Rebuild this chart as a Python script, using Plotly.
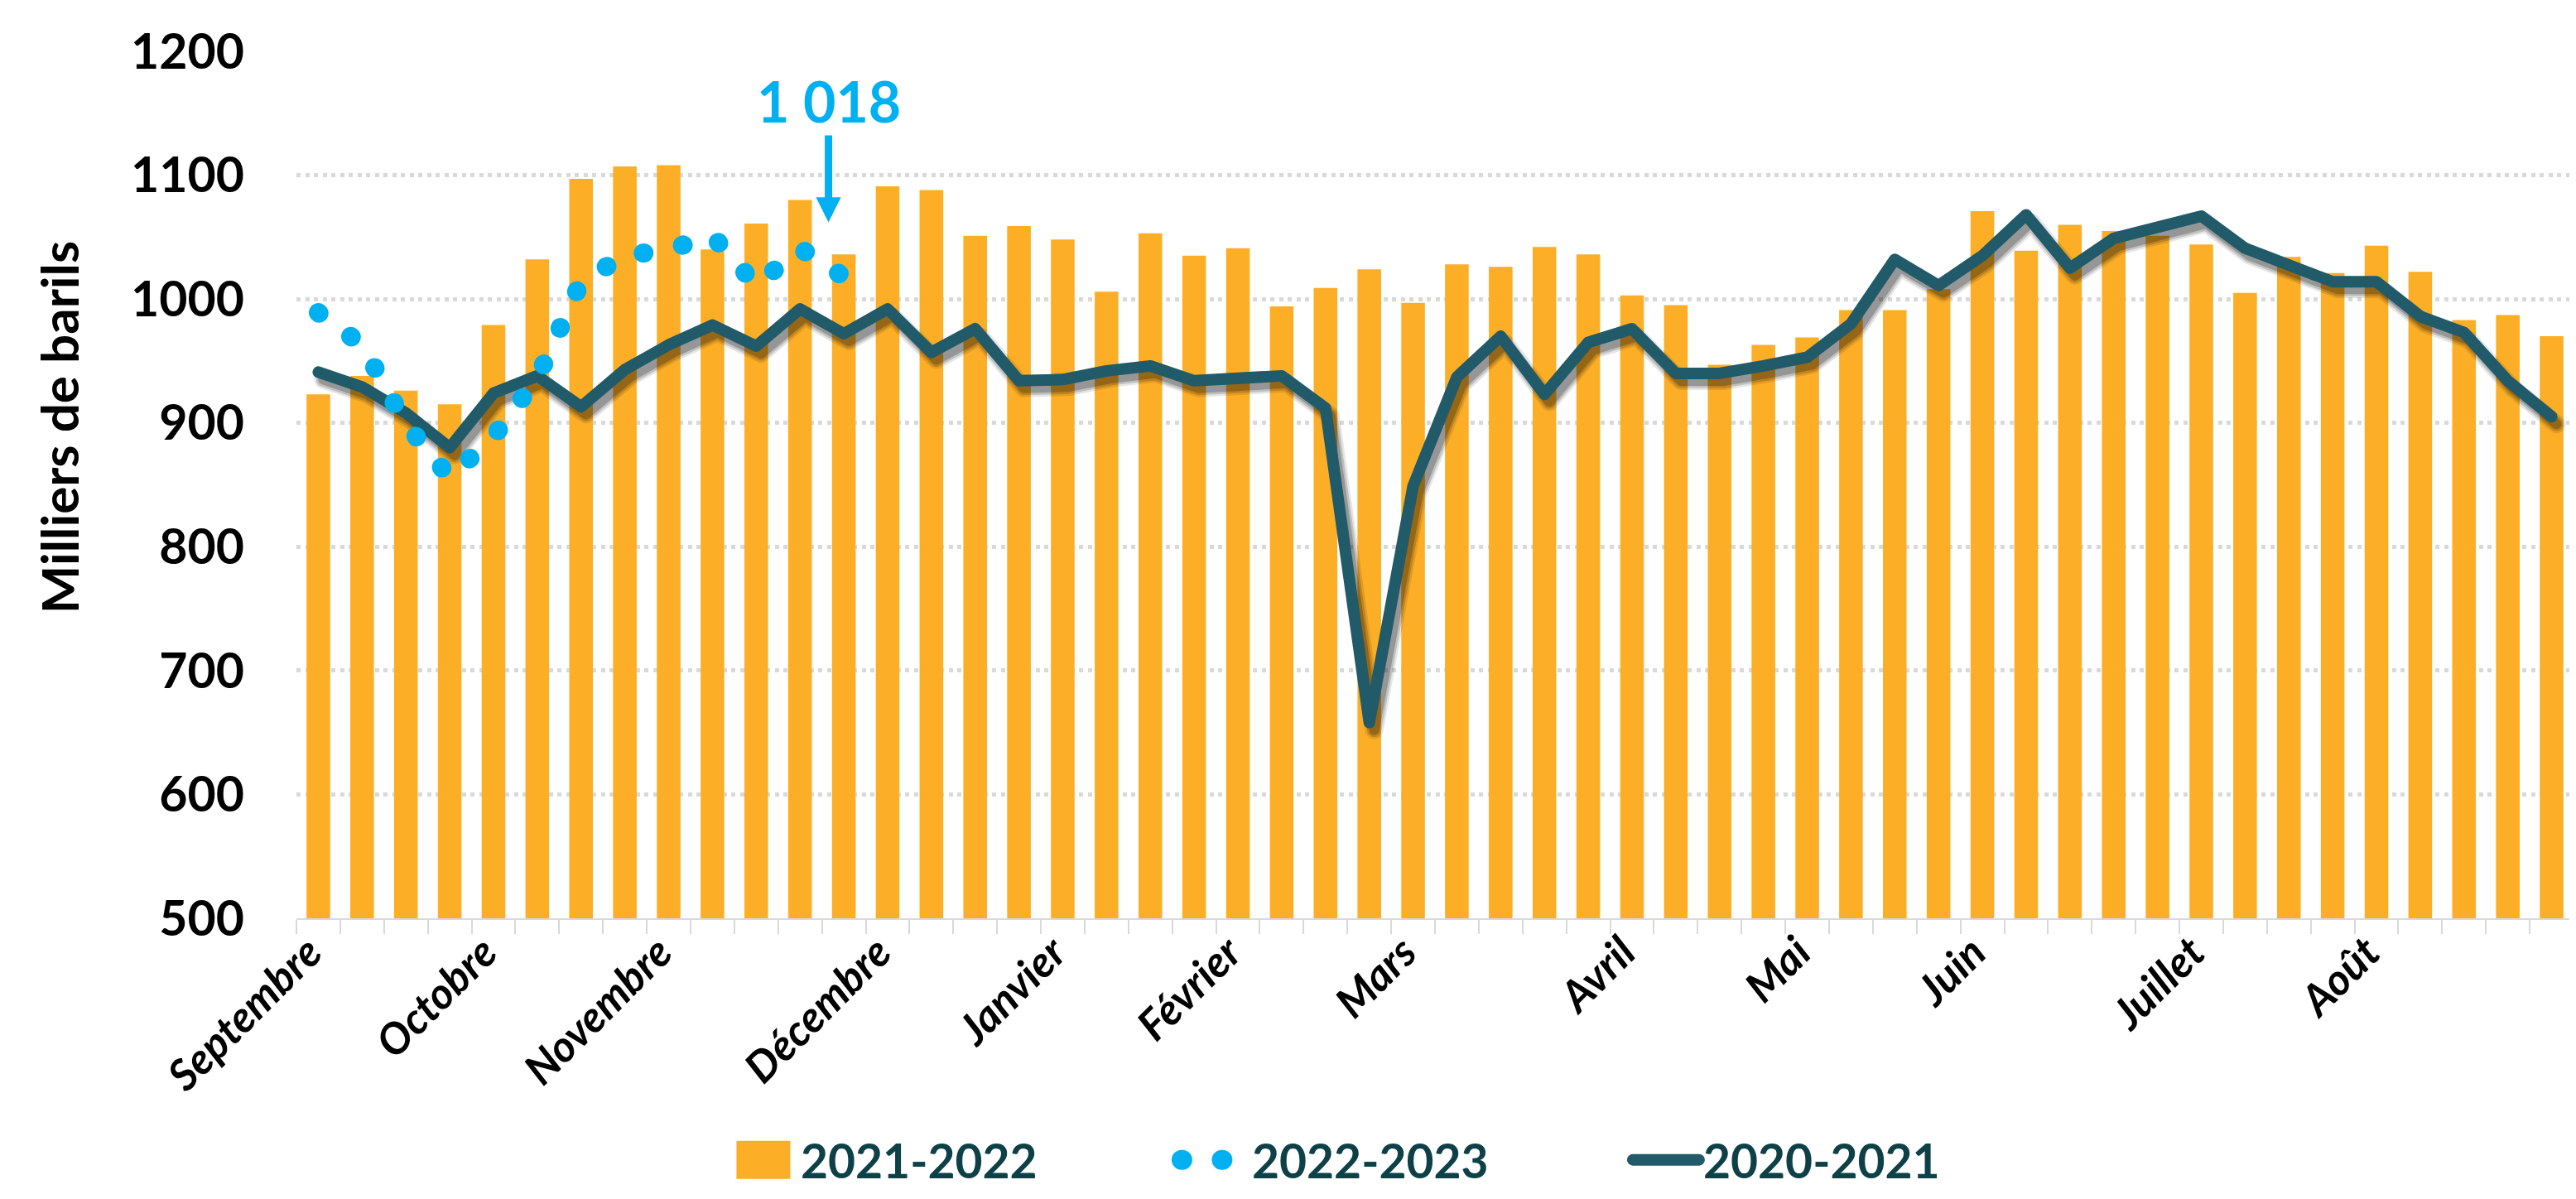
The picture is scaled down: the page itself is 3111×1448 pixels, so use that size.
import plotly.graph_objects as go

# ---------------- data ----------------
weeks = list(range(52))
months = ["Septembre", "Octobre", "Novembre", "Décembre", "Janvier", "Février",
          "Mars", "Avril", "Mai", "Juin", "Juillet", "Août"]
month_start_week = [0, 4, 8, 13, 17, 21, 25, 30, 34, 38, 43, 47]

s2021_2022 = [923, 938, 926, 915, 979, 1032, 1097, 1107, 1108, 1040, 1061, 1080, 1036, 1091, 1088,
              1051, 1059, 1048, 1006, 1053, 1035, 1041, 994, 1009, 1024, 997, 1028, 1026, 1042, 1036,
              1003, 995, 947, 963, 969, 991, 991, 1008, 1071, 1039, 1060, 1055, 1051, 1044,
              1005, 1034, 1021, 1043, 1022, 983, 987, 970]
s2022_2023 = [989, 963, 899, 856, 889, 936, 1014, 1035, 1040, 1051, 1011, 1041, 1018]
s2020_2021 = [941, 929, 908, 880, 924, 938, 913, 943, 963, 979, 962, 992, 972, 992, 957,
              976, 934, 935, 942, 946, 934, 937, 938, 912, 658, 849, 937, 970, 923, 965,
              976, 940, 940, 946, 953, 980, 1032, 1011, 1035, 1068, 1025, 1049, 1058, 1067,
              1041, 1028, 1014, 1014, 986, 973, 934, 905]
y_ticks = [500, 600, 700, 800, 900, 1000, 1100, 1200]
last_label = "1 018"

ORANGE = "#FDAE27"
TEAL = "rgb(33, 90, 105)"
CYAN = "#00B0F0"
LEG_TXT = "#0E4147"
GRID = "#D9D9D9"
FONT = "Lato"

fig = go.Figure()
fig.add_trace(go.Bar(x=weeks, y=s2021_2022, name="2021-2022", marker=dict(color=ORANGE, line=dict(width=0)),
                     legendrank=1))
fig.add_trace(go.Scatter(x=weeks, y=s2020_2021, name="2020-2021", mode="lines",
                         line=dict(color=TEAL, width=14), legendrank=3))
fig.add_trace(go.Scatter(x=weeks[:len(s2022_2023)], y=s2022_2023, name="2022-2023", mode="lines",
                         line=dict(color=CYAN, width=23, dash="1px,47.5px"), legendrank=2))

fig.update_layout(
    width=3111, height=1448,
    margin=dict(l=350, r=11, t=54, b=330),
    plot_bgcolor="white", paper_bgcolor="white",
    bargap=0.46,
    font=dict(family=FONT, color="black"),
    showlegend=True,
    legend=dict(orientation="h", x=0.1887, xanchor="left", y=-0.279, yanchor="middle",
                font=dict(family=FONT, size=57, color=LEG_TXT, weight="bold"),
                itemwidth=80, entrywidth=450, traceorder="normal"),
    xaxis=dict(range=[-0.5, 51.5], tickmode="array", tickvals=month_start_week, ticktext=months,
               tickangle=-45, tickfont=dict(family=FONT, size=52, color="black", weight="bold", style="italic"),
               ticks="", ticklabelshift=-11, ticklabelstandoff=-12,
               showgrid=False, zeroline=False,
               showline=True, linecolor=GRID, linewidth=2,
               minor=dict(tickmode="linear", tick0=-0.5, dtick=1, ticks="outside", ticklen=17,
                          tickcolor=GRID, tickwidth=2, showgrid=False)),
    yaxis=dict(range=[500, 1200], tickmode="array", tickvals=y_ticks,
               tickfont=dict(family=FONT, size=59, color="black", weight="bold"),
               ticks="", ticklabelstandoff=62,
               showgrid=True, gridcolor=GRID, gridwidth=5, griddash="5px,5.5px",
               zeroline=False, showline=False),
)

# y-axis title
fig.add_annotation(text="Milliers de barils", xref="paper", yref="paper", x=-0.1045, y=0.5658,
                   xanchor="center", yanchor="middle", textangle=-90, showarrow=False,
                   font=dict(family=FONT, size=62, color="black", weight="bold"))

# label for last 2022-2023 value
last_i = len(s2022_2023) - 1
fig.add_annotation(text=last_label, x=last_i - 0.35, y=s2022_2023[-1] + 44, xref="x", yref="y",
                   showarrow=True, arrowhead=2, arrowsize=0.67, arrowwidth=9, arrowcolor=CYAN,
                   ax=0, ay=-147, font=dict(family=FONT, size=68, color=CYAN, weight="bold"))

post = """
var gd = document.getElementById('{plot_id}');
function fixAll(){
  var traces = gd.querySelectorAll('.scatterlayer .trace');
  traces.forEach(function(tr, k){
    tr.querySelectorAll('path.js-line').forEach(function(p){
      if (p.dataset.shadow) return;
      p.style.strokeLinecap = 'round';
      p.style.strokeLinejoin = 'round';
      if (k === 0 && !p.dataset.hasShadow) {
        var specs = [[22, 0.10], [17, 0.16], [12, 0.22]];
        specs.forEach(function(s){
          var c = p.cloneNode(false);
          c.dataset.shadow = '1';
          c.classList.remove('js-line');
          c.style.stroke = 'rgb(0,0,0)';
          c.style.strokeOpacity = String(s[1]);
          c.style.strokeWidth = s[0] + 'px';
          c.style.strokeLinecap = 'round';
          c.style.strokeLinejoin = 'round';
          c.setAttribute('transform', 'translate(6,9)');
          p.parentNode.insertBefore(c, p);
        });
        p.dataset.hasShadow = '1';
      }
    });
  });
  var items = gd.querySelectorAll('.legend .traces');
  items.forEach(function(t){
    var txt = t.querySelector('text.legendtext');
    var name = txt ? txt.textContent : '';
    if (name === '2021-2022') {
      var p = t.querySelector('.legendpoints path');
      if (p && !p.dataset.fixed) {
        var bb = p.getBBox();
        var cx = bb.x + bb.width/2, cy = bb.y + bb.height/2;
        p.setAttribute('d', 'M' + (cx-32.5) + ',' + (cy-23) + 'h65v46h-65Z');
        p.dataset.fixed = '1';
      }
    } else if (name === '2022-2023') {
      t.querySelectorAll('path.js-line').forEach(function(p){
        p.style.strokeWidth = '24px'; p.style.strokeLinecap = 'round';
      });
    } else if (name === '2020-2021') {
      t.querySelectorAll('path.js-line').forEach(function(p){
        p.style.strokeWidth = '14px'; p.style.strokeLinecap = 'round';
      });
    }
  });
}
fixAll();
gd.on('plotly_afterplot', fixAll);
setTimeout(fixAll, 300);
"""

fig.write_html("out.html", post_script=post)
